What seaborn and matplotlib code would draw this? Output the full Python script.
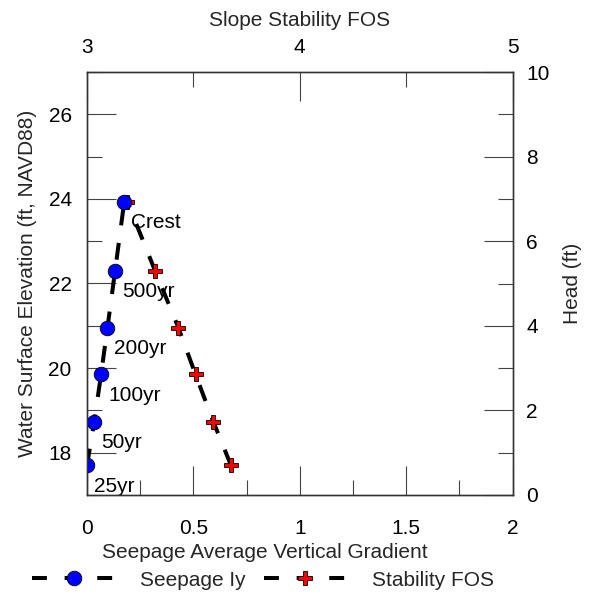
import matplotlib
matplotlib.use("Agg")
import matplotlib.pyplot as plt
from matplotlib.lines import Line2D
from matplotlib.ticker import MultipleLocator
import seaborn as sns
import pandas as pd

# ---- data ----
events = ["25yr", "50yr", "100yr", "200yr", "500yr", "Crest"]
elevation = [17.7, 18.73, 19.85, 20.95, 22.3, 23.93]
seepage_iy = [0.0, 0.034, 0.066, 0.096, 0.132, 0.175]
stability_fos = [3.677, 3.594, 3.51, 3.43, 3.32, 3.19]

df = pd.DataFrame({"event": events, "elev": elevation,
                   "iy": seepage_iy, "fos": stability_fos})

sns.set_style("white")
plt.rcParams["font.family"] = ["Liberation Sans", "DejaVu Sans"]
FS = 15

fig = plt.figure(figsize=(5.9, 5.97), dpi=100)
ax = fig.add_axes([87 / 590, 1 - 495 / 597, (512.5 - 87) / 590, (495 - 72) / 597])
ax_top = ax.twiny()
ax_right = ax.twinx()

dash = (0, (4.2, 4.4))
LW = 2.9

# Stability FOS on top axis
sns.lineplot(data=df, x="fos", y="elev", sort=False, ax=ax_top, color="black",
             linewidth=LW, linestyle=dash, zorder=2)
ax_top.plot(df["fos"], df["elev"], linestyle="none", marker="P", markersize=10,
            markerfacecolor="red", markeredgecolor="black", markeredgewidth=0.6,
            zorder=3)

# Seepage on bottom axis
sns.lineplot(data=df, x="iy", y="elev", sort=False, ax=ax, color="black",
             linewidth=LW, linestyle=dash, zorder=2)
ax.plot(df["iy"], df["elev"], linestyle="none", marker="o", markersize=10.5,
        markerfacecolor="blue", markeredgecolor="black", markeredgewidth=0.6,
        zorder=3)

for ev, xv, yv in zip(events, seepage_iy, elevation):
    ax.annotate(ev, (xv, yv), xytext=(7, -21), textcoords="offset pixels",
                ha="left", va="center", fontsize=FS, color="black", zorder=4)

# put seepage axis on top of FOS axis
ax.set_zorder(ax_top.get_zorder() + 1)
ax.patch.set_visible(False)
ax_right.set_zorder(ax.get_zorder() + 1)
ax_right.patch.set_visible(False)

ax.set_xlim(0, 2)
ax.set_ylim(17, 27)
ax_top.set_xlim(3, 5)
ax_top.set_ylim(17, 27)
ax_right.set_ylim(0, 10)

ax.xaxis.set_major_locator(MultipleLocator(0.5))
ax.xaxis.set_minor_locator(MultipleLocator(0.25))
ax.yaxis.set_major_locator(MultipleLocator(2))
ax.yaxis.set_minor_locator(MultipleLocator(1))
ax_top.xaxis.set_major_locator(MultipleLocator(1))
ax_top.xaxis.set_minor_locator(MultipleLocator(0.5))
ax_right.yaxis.set_major_locator(MultipleLocator(2))
ax_right.yaxis.set_minor_locator(MultipleLocator(1))

ax.set_xticks([0, 0.5, 1, 1.5, 2])
ax.set_xticklabels(["0", "0.5", "1", "1.5", "2"])
ax.set_yticks([18, 20, 22, 24, 26])
ax_top.set_xticks([3, 4, 5])
ax_right.set_yticks([0, 2, 4, 6, 8, 10])

tick_color = "#444444"
for a in (ax, ax_top, ax_right):
    a.tick_params(which="major", direction="in", length=21, width=0.8,
                  color=tick_color, labelsize=FS, labelcolor="black")
    a.tick_params(which="minor", direction="in", length=10.5, width=0.8,
                  color=tick_color)
    for s in a.spines.values():
        s.set_color("#333333")
        s.set_linewidth(0.9)
        s.set_visible(True)

ax.tick_params(axis="x", which="major", pad=17.5)
ax.tick_params(axis="y", which="major", pad=11)
ax.tick_params(top=False, right=False, which="both")
ax_top.tick_params(axis="x", which="major", pad=11)
ax_top.tick_params(axis="y", which="both", left=False, right=False,
                   labelleft=False, labelright=False)
ax_right.tick_params(axis="y", which="major", pad=10)
ax_right.tick_params(axis="x", which="both", top=False, bottom=False,
                     labeltop=False, labelbottom=False)

ax.set_xlabel("Seepage Average Vertical Gradient", fontsize=FS)
ax.xaxis.set_label_coords((265 - 87) / 425.5, -(552 - 495) / 423, transform=ax.transAxes)
ax.xaxis.label.set_va("center")
ax.set_ylabel("Water Surface Elevation (ft, NAVD88)", fontsize=FS)
ax.yaxis.set_label_coords(-(87 - 28) / 425.5, 0.5, transform=ax.transAxes)
ax.yaxis.label.set_va("center")
ax_top.set_xlabel("Slope Stability FOS", fontsize=FS)
ax_top.xaxis.set_label_coords(0.5, 1 + (72 - 20) / 423, transform=ax.transAxes)
ax_top.xaxis.label.set_va("center")
ax_top.set_ylabel("")
ax_right.set_ylabel("Head (ft)", fontsize=FS)
ax_right.yaxis.set_label_coords(1 + (573 - 512.5) / 425.5, 0.5, transform=ax.transAxes)
ax_right.yaxis.label.set_va("center")

handles = [
    Line2D([], [], color="black", linewidth=LW, linestyle=(0, (3.7, 4.4)),
           marker="o", markersize=10.5, markerfacecolor="blue",
           markeredgecolor="black", markeredgewidth=0.6),
    Line2D([], [], color="black", linewidth=LW, linestyle=(0, (3.7, 4.4)),
           marker="P", markersize=10, markerfacecolor="red",
           markeredgecolor="black", markeredgewidth=0.6),
]
fig.legend(handles, ["Seepage Iy", "Stability FOS"], loc="center",
           bbox_to_anchor=(263 / 590, 1 - 580 / 597), ncol=2, frameon=False,
           fontsize=FS, handlelength=4.0, handletextpad=1.2,
           columnspacing=0.85, borderpad=0, borderaxespad=0)

fig.savefig("out.png", dpi=100)
